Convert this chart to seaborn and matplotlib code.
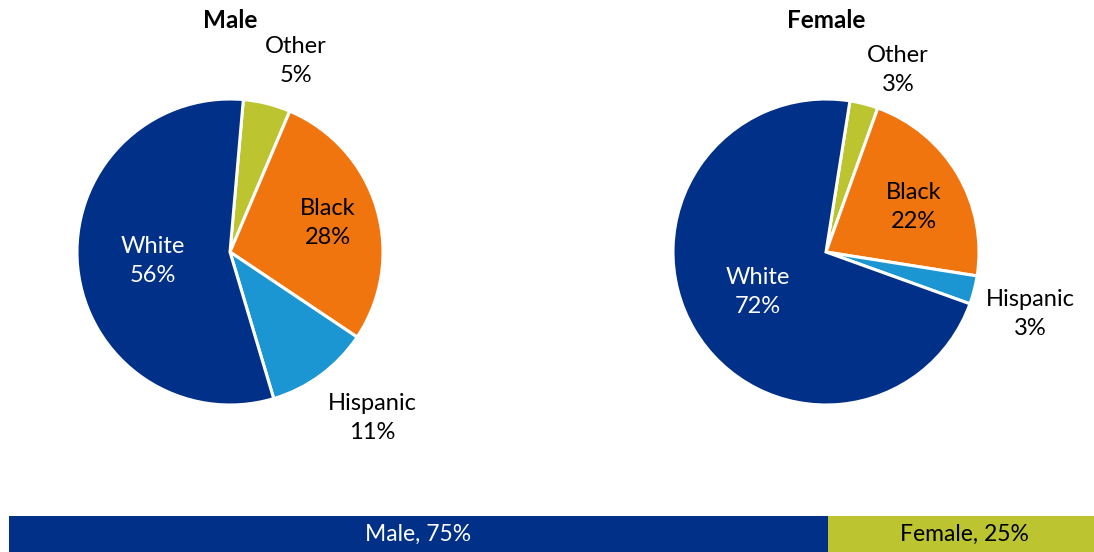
import matplotlib
matplotlib.use("Agg")
import matplotlib.pyplot as plt
import seaborn as sns
import pandas as pd

# ---- data ----
groups = ["Male", "Female"]
categories = ["Other", "Black", "Hispanic", "White"]
male_pct = [5, 28, 11, 56]
female_pct = [3, 22, 3, 72]
sex_labels = ["Male", "Female"]
sex_pct = [75, 25]

# ---- style ----
sns.set_theme(style="white")
plt.rcParams["font.family"] = ["Lato", "DejaVu Sans"]

NAVY = "#003087"
ORANGE = "#F0750F"
BLUE = "#1C96D3"
OLIVE = "#BCC530"
slice_colors = {"Other": OLIVE, "Black": ORANGE, "Hispanic": BLUE, "White": NAVY}
text_colors = {"Other": "black", "Black": "black", "Hispanic": "black", "White": "white"}

W, H = 1094, 552
fig = plt.figure(figsize=(W / 100, H / 100), dpi=100)

# full-figure axes in pixel units (y measured from the top)
ax = fig.add_axes([0, 0, 1, 1])
ax.set_axis_off()

def py(y):
    return H - y

pie_layout = {
    "Male": dict(center=(230, 252), radius=153, start=5,
                 labels={"Other": (296, 61), "Black": (328, 223),
                         "White": (153, 261), "Hispanic": (372, 418)}),
    "Female": dict(center=(826, 252), radius=153, start=9,
                   labels={"Other": (898, 70), "Black": (914, 207),
                           "White": (758, 292), "Hispanic": (1030, 314)}),
}
values = {"Male": male_pct, "Female": female_pct}

for g in groups:
    lay = pie_layout[g]
    cx, cy = lay["center"]
    ax.pie(values[g], colors=[slice_colors[c] for c in categories],
           startangle=90 - lay["start"], counterclock=False,
           center=(cx, py(cy)), radius=lay["radius"],
           wedgeprops=dict(edgecolor="white", linewidth=2.2))
    for c, v in zip(categories, values[g]):
        lx, ly = lay["labels"][c]
        ax.text(lx, py(ly), f"{c}\n{v}%", ha="center", va="center",
                fontsize=17, color=text_colors[c], linespacing=1.45)
    ax.text(cx, py(21), g, ha="center", va="center",
            fontsize=17.5, fontweight="bold", color="black")

ax.set_xlim(0, W)
ax.set_ylim(0, H)
ax.set_aspect("equal")

# ---- stacked share bar along the bottom ----
bx0, bx1, bh = 9, 1101, 36
bax = fig.add_axes([bx0 / W, 0, (bx1 - bx0) / W, bh / H])
sex_df = pd.DataFrame({"group": ["all"], "female_end": [sum(sex_pct)], "male_end": [sex_pct[0]]})
sns.barplot(data=sex_df, x="female_end", y="group", orient="h", color=OLIVE,
            width=1.0, saturation=1, linewidth=0, ax=bax)
sns.barplot(data=sex_df, x="male_end", y="group", orient="h", color=NAVY,
            width=1.0, saturation=1, linewidth=0, ax=bax)
bax.set_xlim(0, 100)
bax.set_ylim(0.5, -0.5)
bax.set_axis_off()

left = 0
for lab, pct, col in zip(sex_labels, sex_pct, ["white", "black"]):
    bax.text(left + pct / 2, 0, f"{lab}, {pct}%", ha="center", va="center",
             fontsize=16.5, color=col)
    left += pct

fig.savefig("out.png", dpi=100)
